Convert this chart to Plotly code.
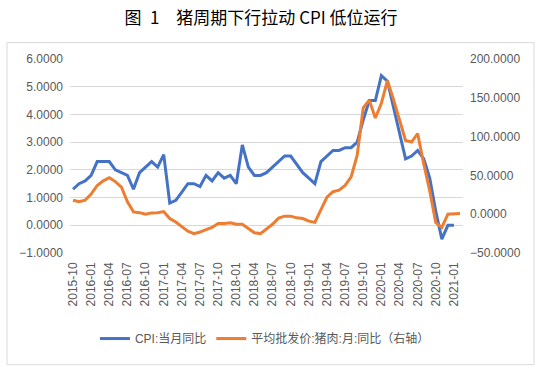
import plotly.graph_objects as go

# categories: monthly 2015-10 .. 2021-02
months = []
for y in range(2015, 2022):
    for m in range(1, 13):
        s = f"{y}-{m:02d}"
        if "2015-10" <= s <= "2021-02":
            months.append(s)

cpi_yoy = [1.3, 1.5, 1.6, 1.8, 2.3, 2.3, 2.3, 2.0, 1.9, 1.8, 1.3, 1.9,
           2.1, 2.3, 2.1, 2.55, 0.8, 0.9, 1.2, 1.5, 1.5, 1.4, 1.8, 1.6,
           1.9, 1.7, 1.8, 1.5, 2.9, 2.1, 1.8, 1.8, 1.9, 2.1, 2.3, 2.5,
           2.5, 2.2, 1.9, 1.7, 1.5, 2.3, 2.5, 2.7, 2.7, 2.8, 2.8, 3.0,
           3.8, 4.5, 4.5, 5.4, 5.2, 4.3, 3.3, 2.4, 2.5, 2.7, 2.4, 1.7,
           0.5, -0.5, 0.0, 0.0]

pork_yoy = [18, 16, 18, 26, 37, 43, 47, 42, 35, 16, 3, 2,
            0, 1.7, 2, 3.4, -5.6, -10, -16, -22, -25, -23, -20, -17,
            -12, -12, -11, -13, -13, -18.5, -24, -25, -18.5, -13, -5, -2.5,
            -2.5, -4.7, -5.6, -9, -10.5, 6, 22, 29, 31, 37, 48, 76,
            137, 147, 124, 143, 172, 148, 122, 95, 93, 104, 65, 30,
            -11, -17, 0, 0, 0.8]

name_cpi = "CPI:当月同比"
name_pork = "平均批发价:猪肉:月:同比（右轴）"
title_text = "图\u20021\u2003猪周期下行拉动 CPI 低位运行"

tick_labels = months[::3]
boundary_ticks = [i - 0.5 for i in range(0, len(months), 3)]

FONT = "Liberation Sans, Noto Sans CJK SC, sans-serif"
GRID = "#d9d9d9"
LBL = "#595959"

fig = go.Figure()
fig.add_trace(go.Scatter(x=months[:len(cpi_yoy)], y=cpi_yoy, name=name_cpi,
                         mode="lines", line=dict(color="#4472C4", width=3)))
fig.add_trace(go.Scatter(x=months[:len(pork_yoy)], y=pork_yoy, name=name_pork,
                         mode="lines", line=dict(color="#ED7D31", width=3),
                         yaxis="y2"))

fig.update_layout(
    width=542, height=368,
    margin=dict(l=70, r=79, t=59, b=115),
    paper_bgcolor="white", plot_bgcolor="white",
    font=dict(family=FONT, size=12, color=LBL),
    title=dict(text=title_text, x=261 / 542, xref="container",
               xanchor="center", y=1 - 18 / 368, yanchor="middle",
               font=dict(family="Noto Sans CJK SC, sans-serif", size=17, color="#000000")),
    xaxis=dict(type="category", categoryorder="array", categoryarray=months,
               range=[-0.5, len(months) - 0.5],
               tickmode="array", tickvals=tick_labels, ticktext=tick_labels,
               tickangle=-90, showgrid=False, showline=False, ticks="",
               zeroline=False, ticklabelstandoff=6,
               tickfont=dict(size=12, color=LBL)),
    xaxis2=dict(overlaying="x", anchor="free", position=1 / 7,
                range=[-0.5, len(months) - 0.5], tickmode="array",
                tickvals=boundary_ticks, ticks="outside", ticklen=4,
                tickcolor=GRID, tickwidth=1, showline=True, linecolor=GRID,
                linewidth=1, showticklabels=False, showgrid=False, zeroline=False),
    yaxis=dict(range=[-1, 6], dtick=1, tickformat=".4f", showgrid=True,
               gridcolor=GRID, gridwidth=1, zeroline=False, showline=False,
               ticks="", ticklabelstandoff=6, tickfont=dict(size=12, color=LBL)),
    yaxis2=dict(range=[-50, 200], dtick=50, tickformat=".4f", overlaying="y",
                side="right", showgrid=False, zeroline=False, showline=False,
                ticks="", ticklabelstandoff=6, tickfont=dict(size=12, color=LBL)),
    legend=dict(orientation="h", x=0.496, xanchor="center", y=-0.441,
                yanchor="middle", font=dict(size=12, color=LBL),
                bgcolor="rgba(0,0,0,0)", itemwidth=30, tracegroupgap=0),
    shapes=[dict(type="rect", xref="paper", yref="paper",
                 x0=(7 - 70) / 393, x1=(534 - 70) / 393,
                 y0=(252.7 - 364) / 193.4, y1=(252.7 - 43) / 193.4,
                 line=dict(color=GRID, width=1), fillcolor="rgba(0,0,0,0)",
                 layer="below")],
)

fig.write_html("out.html", config={"displayModeBar": False},
               post_script="document.body.style.margin='0';document.body.style.padding='0';")
